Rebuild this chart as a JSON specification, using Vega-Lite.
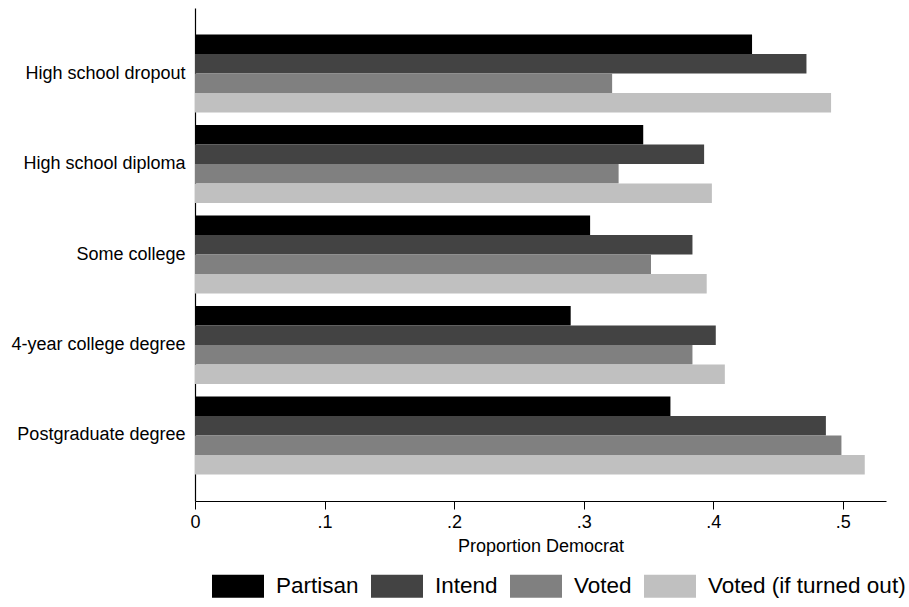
{
  "$schema": "https://vega.github.io/schema/vega-lite/v6.json",
  "width": 691,
  "height": 493,
  "autosize": "none",
  "padding": {"left": 195, "top": 8, "right": 23, "bottom": 106},
  "background": "white",
  "config": {
    "view": {"stroke": null},
    "font": "Liberation Sans",
    "axis": {"labelFont": "Liberation Sans", "titleFont": "Liberation Sans", "labelColor": "#000", "titleColor": "#000", "domainColor": "#000", "tickColor": "#000"},
    "legend": {"labelFont": "Liberation Sans", "labelColor": "#000"}
  },
  "data": {
    "values": [
      {"edu": "High school dropout", "series": "Partisan", "value": 0.430},
      {"edu": "High school dropout", "series": "Intend", "value": 0.472},
      {"edu": "High school dropout", "series": "Voted", "value": 0.322},
      {"edu": "High school dropout", "series": "Voted (if turned out)", "value": 0.491},
      {"edu": "High school diploma", "series": "Partisan", "value": 0.346},
      {"edu": "High school diploma", "series": "Intend", "value": 0.393},
      {"edu": "High school diploma", "series": "Voted", "value": 0.327},
      {"edu": "High school diploma", "series": "Voted (if turned out)", "value": 0.399},
      {"edu": "Some college", "series": "Partisan", "value": 0.305},
      {"edu": "Some college", "series": "Intend", "value": 0.384},
      {"edu": "Some college", "series": "Voted", "value": 0.352},
      {"edu": "Some college", "series": "Voted (if turned out)", "value": 0.395},
      {"edu": "4-year college degree", "series": "Partisan", "value": 0.290},
      {"edu": "4-year college degree", "series": "Intend", "value": 0.402},
      {"edu": "4-year college degree", "series": "Voted", "value": 0.384},
      {"edu": "4-year college degree", "series": "Voted (if turned out)", "value": 0.409},
      {"edu": "Postgraduate degree", "series": "Partisan", "value": 0.367},
      {"edu": "Postgraduate degree", "series": "Intend", "value": 0.487},
      {"edu": "Postgraduate degree", "series": "Voted", "value": 0.499},
      {"edu": "Postgraduate degree", "series": "Voted (if turned out)", "value": 0.517}
    ]
  },
  "mark": {"type": "bar", "strokeWidth": 0},
  "encoding": {
    "y": {
      "field": "edu",
      "type": "nominal",
      "sort": ["High school dropout", "High school diploma", "Some college", "4-year college degree", "Postgraduate degree"],
      "scale": {"paddingInner": 0.136, "paddingOuter": 0.292},
      "axis": {"title": null, "ticks": false, "labelPadding": 10, "labelFontSize": 18, "domainWidth": 1.2, "labelLimit": 300}
    },
    "yOffset": {
      "field": "series",
      "type": "nominal",
      "sort": ["Partisan", "Intend", "Voted", "Voted (if turned out)"],
      "scale": {"paddingInner": 0, "paddingOuter": 0}
    },
    "x": {
      "field": "value",
      "type": "quantitative",
      "scale": {"domain": [0, 0.5334], "nice": false, "zero": true},
      "axis": {
        "title": "Proportion Democrat",
        "titleFontSize": 18,
        "titleFontWeight": "normal",
        "titlePadding": 6,
        "values": [0, 0.1, 0.2, 0.3, 0.4, 0.5],
        "labelExpr": "datum.value == 0 ? '0' : replace(format(datum.value, '.1f'), '0.', '.')",
        "labelFontSize": 18,
        "tickSize": 8,
        "labelPadding": 4,
        "grid": false,
        "domainWidth": 1.2,
        "labelFlush": false
      }
    },
    "color": {
      "field": "series",
      "type": "nominal",
      "sort": ["Partisan", "Intend", "Voted", "Voted (if turned out)"],
      "scale": {"domain": ["Partisan", "Intend", "Voted", "Voted (if turned out)"], "range": ["#000000", "#434343", "#808080", "#c0c0c0"]},
      "legend": {
        "title": null,
        "orient": "none",
        "legendX": 17,
        "legendY": 552,
        "direction": "horizontal",
        "columns": 4,
        "columnPadding": 12,
        "padding": 0,
        "symbolType": "M-1,-0.442H1V0.442H-1Z",
        "symbolSize": 2704,
        "symbolStrokeWidth": 0,
        "symbolOpacity": 1,
        "labelFontSize": 22.5,
        "labelOffset": 12,
        "labelLimit": 400
      }
    }
  }
}
